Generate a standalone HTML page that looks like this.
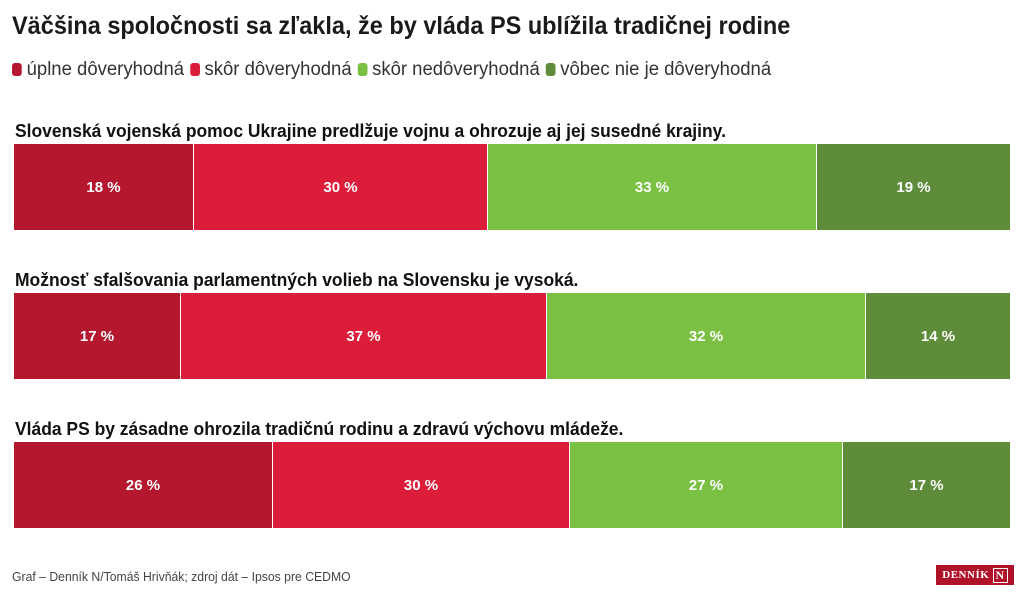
<!DOCTYPE html>
<html><head><meta charset="utf-8"><style>
body{margin:0;width:1024px;height:600px;background:#fff;font-family:"Liberation Sans",sans-serif;color:#222;position:relative;overflow:hidden}
.a{position:absolute;white-space:nowrap;transform-origin:0 0}
.t{left:12px;top:12px;font-size:25px;font-weight:bold;color:#1a1a1a;transform:scaleX(0.94)}
.lg{left:12px;top:59px;font-size:19px;color:#333;transform:scaleX(0.974)}
.lg span{display:inline-block;width:10px;height:13px;border-radius:3px;margin-right:5px;vertical-align:-1px}
.lg b{font-weight:normal;margin-right:6px}
.h{left:15px;font-size:18px;font-weight:bold;color:#111;transform:scaleX(0.97)}
.bar{position:absolute;left:14px;width:996px;height:86px;display:flex}
.bar div{height:100%;display:flex;align-items:center;justify-content:center;color:#fff;font-size:15px;font-weight:bold;border-right:1px solid #fff;box-sizing:border-box}
.bar div:last-child{border-right:none}
.c1{background:#b5172f}.c2{background:#dc1d3a}.c3{background:#7ac143}.c4{background:#5e8c3a}
.f{left:12px;top:570px;font-size:12.5px;color:#444;transform:scaleX(0.977)}
.logo{left:936px;top:565px;width:78px;height:20px;background:#b0122a;color:#fff;font-family:"Liberation Serif",serif;font-weight:bold;font-size:11px;display:flex;align-items:center;justify-content:center;letter-spacing:.5px}
</style></head><body>
<div class="a t">Väčšina spoločnosti sa zľakla, že by vláda PS ublížila tradičnej rodine</div>
<div class="a lg"><span class="c1"></span><b>úplne dôveryhodná</b><span class="c2"></span><b>skôr dôveryhodná</b><span class="c3"></span><b>skôr nedôveryhodná</b><span class="c4"></span><b>vôbec nie je dôveryhodná</b></div>

<div class="a h" style="top:121px">Slovenská vojenská pomoc Ukrajine predlžuje vojnu a ohrozuje aj jej susedné krajiny.</div>
<div class="bar" style="top:144px"><div class="c1" style="width:180px">18 %</div><div class="c2" style="width:294px">30 %</div><div class="c3" style="width:329px">33 %</div><div class="c4" style="width:193px">19 %</div></div>

<div class="a h" style="top:270px">Možnosť sfalšovania parlamentných volieb na Slovensku je vysoká.</div>
<div class="bar" style="top:293px"><div class="c1" style="width:167px">17 %</div><div class="c2" style="width:366px">37 %</div><div class="c3" style="width:319px">32 %</div><div class="c4" style="width:144px">14 %</div></div>

<div class="a h" style="top:419px">Vláda PS by zásadne ohrozila tradičnú rodinu a zdravú výchovu mládeže.</div>
<div class="bar" style="top:442px"><div class="c1" style="width:259px">26 %</div><div class="c2" style="width:297px">30 %</div><div class="c3" style="width:273px">27 %</div><div class="c4" style="width:167px">17 %</div></div>

<div class="a f">Graf – Denník N/Tomáš Hrivňák; zdroj dát – Ipsos pre CEDMO</div>
<div class="a logo">DENNÍK&nbsp;<span style="border:1.5px solid #fff;padding:0 2px;font-size:12px;line-height:13px">N</span></div>
</body></html>
